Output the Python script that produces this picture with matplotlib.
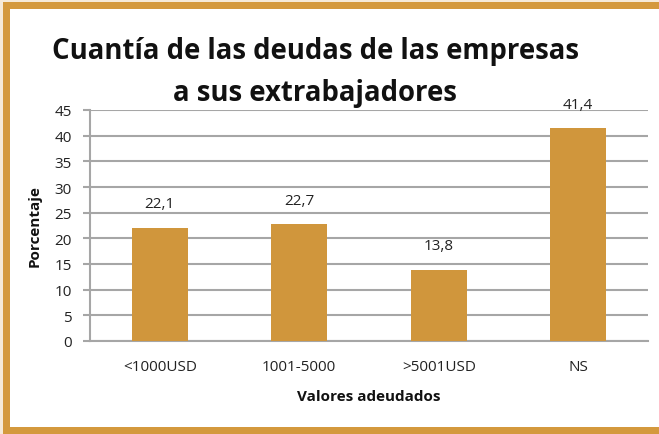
import matplotlib
matplotlib.use("Agg")
import matplotlib.pyplot as plt
from matplotlib.patches import Rectangle

categories = ["<1000USD", "1001-5000", ">5001USD", "NS"]
values = [22.1, 22.7, 13.8, 41.4]
value_labels = ["22,1", "22,7", "13,8", "41,4"]
yticks = [0, 5, 10, 15, 20, 25, 30, 35, 40, 45]

W, H = 659, 435
plt.rcParams['font.family'] = ['Open Sans', 'DejaVu Sans']
fig = plt.figure(figsize=(W / 100, H / 100), dpi=100)
fig.patch.set_facecolor("#f6ead8")
orange = "#d4993d"
bar_color = "#d0963c"
# border
fig.patches.append(Rectangle((3 / W, 0), 1, (H - 3) / H, transform=fig.transFigure,
                             facecolor=orange, edgecolor="none", zorder=-10))
fig.patches.append(Rectangle((10 / W, 7 / H), 1, (H - 17) / H, transform=fig.transFigure,
                             facecolor="white", edgecolor="none", zorder=-9))

ax = fig.add_axes([90 / W, (H - 342) / H, (648 - 90) / W, (342 - 111) / H])
ax.set_facecolor("white")
x = range(len(categories))
bars = ax.bar(x, values, width=0.40, color=bar_color, zorder=3)
ax.set_xlim(-0.5, len(categories) - 0.5)
ax.set_ylim(0, 45)
ax.set_yticks(yticks)
ax.set_xticks(list(x))
ax.set_xticklabels(categories, fontsize=11, color="#222222")
ax.set_yticklabels([str(v) for v in yticks], fontsize=11, color="#222222")
ax.grid(axis="y", color="#a6a6a6", linewidth=1.5, zorder=0)
for s in ["top", "right"]:
    ax.spines[s].set_visible(False)
ax.spines["left"].set_color("#a6a6a6")
ax.spines["left"].set_linewidth(1.5)
ax.spines["bottom"].set_color("#a6a6a6")
ax.spines["bottom"].set_linewidth(1.5)
ax.tick_params(axis="y", length=5, width=1.5, color="#a6a6a6", pad=8)
ax.tick_params(axis="x", length=0, pad=13)

for xi, v, lab in zip(x, values, value_labels):
    ax.annotate(lab, (xi, v), xytext=(0, 17.5), textcoords="offset points",
                ha="center", va="center", fontsize=11, color="#222222")

ax.set_ylabel("Porcentaje", fontsize=11, fontweight="bold", color="#111111", labelpad=9)
ax.set_xlabel("Valores adeudados", fontsize=11, fontweight="bold", color="#111111", labelpad=11)

fig.text(315 / W, (H - 51) / H, "Cuantía de las deudas de las empresas", ha="center", va="center",
         fontsize=19.8, fontweight="bold", color="#111111")
fig.text(315 / W, (H - 93) / H, "a sus extrabajadores", ha="center", va="center",
         fontsize=19.8, fontweight="bold", color="#111111")

fig.savefig("out.png", dpi=100, facecolor=fig.get_facecolor())
